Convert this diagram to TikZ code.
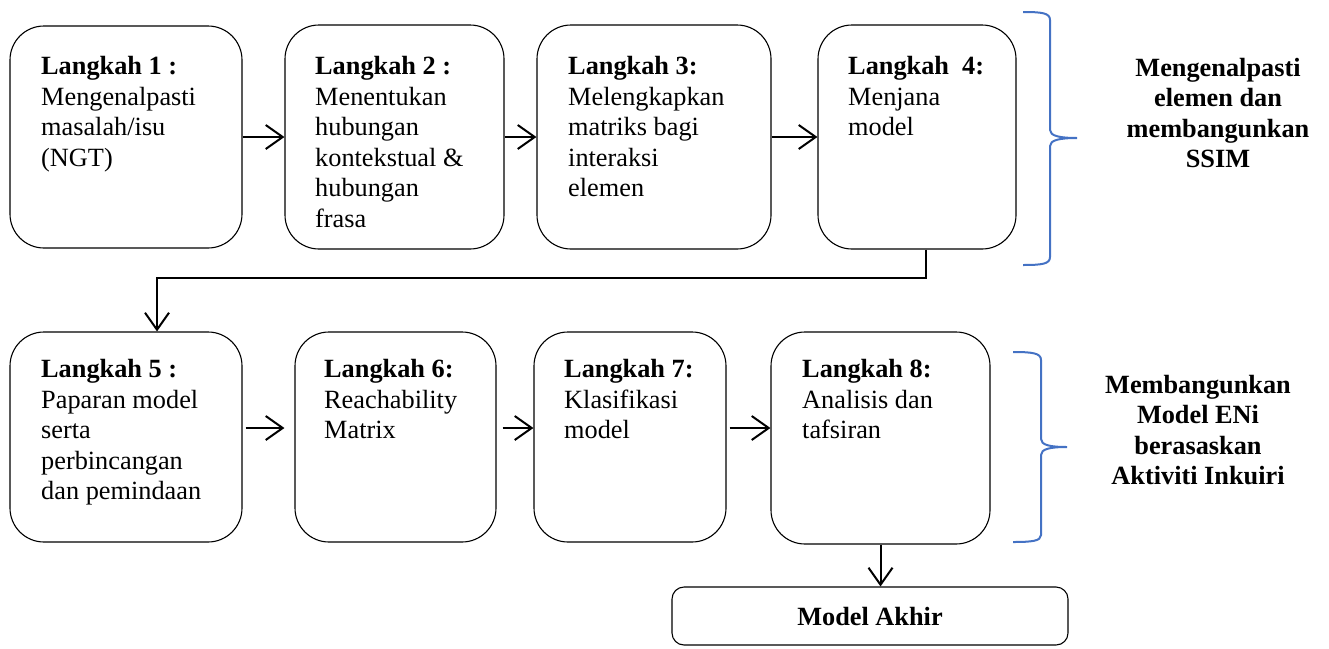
\documentclass[tikz,border=0pt]{standalone}
\usepackage{fontspec}
\setmainfont{Liberation Serif}
\usetikzlibrary{arrows.meta}
\definecolor{braceblue}{RGB}{68,114,196}
\begin{document}
\begin{tikzpicture}[x=1pt,y=-1pt,
    stepbox/.style={draw,line width=1.1pt,rounded corners=34pt,inner sep=0pt},
    endbox/.style={draw,line width=1.1pt,rounded corners=12pt,inner sep=0pt,font=\bfseries},
    steptext/.style={anchor=north west,align=left,inner sep=0pt},
    sidetext/.style={align=center,inner sep=0pt,font=\bfseries},
    flow/.style={line width=2pt,-{Straight Barb[length=17pt,width=24pt,line width=2pt]}},
    bracket/.style={draw=braceblue,line width=2pt}]
\useasboundingbox (0,0) rectangle (1329,648);
\fontsize{26.3}{30.6}\selectfont

% Boxes of the first row
\node [stepbox,minimum width=232pt,minimum height=222pt] (box1) at (126,137) {};
\node [stepbox,minimum width=219pt,minimum height=224pt] (box2) at (394.5,137) {};
\node [stepbox,minimum width=234pt,minimum height=224pt] (box3) at (654,137) {};
\node [stepbox,minimum width=198pt,minimum height=224pt] (box4) at (917,137) {};

% Texts of the first row
\node [steptext] (txt1) at (41,56) {\textbf{Langkah 1 :}\\Mengenalpasti\\masalah/isu\\(NGT)};
\node [steptext] (txt2) at (315,56) {\textbf{Langkah 2 :}\\Menentukan\\hubungan\\kontekstual \&\\hubungan\\frasa};
\node [steptext] (txt3) at (568,56) {\textbf{Langkah 3:}\\Melengkapkan\\matriks bagi\\interaksi\\elemen};
\node [steptext] (txt4) at (848,56) {\textbf{Langkah\ \ 4:}\\Menjana\\model};

% Boxes of the second row
\node [stepbox,minimum width=232pt,minimum height=210pt] (box5) at (126,437) {};
\node [stepbox,minimum width=201pt,minimum height=210pt] (box6) at (395.5,437) {};
\node [stepbox,minimum width=192pt,minimum height=210pt] (box7) at (630,437) {};
\node [stepbox,minimum width=219pt,minimum height=212pt] (box8) at (880.5,438) {};

% Texts of the second row
\node [steptext] (txt5) at (41,359) {\textbf{Langkah 5 :}\\Paparan model\\serta\\perbincangan\\dan pemindaan};
\node [steptext] (txt6) at (324,359) {\textbf{Langkah 6:}\\Reachability\\Matrix};
\node [steptext] (txt7) at (564,359) {\textbf{Langkah 7:}\\Klasifikasi\\model};
\node [steptext] (txt8) at (802,359) {\textbf{Langkah 8:}\\Analisis dan\\tafsiran};

% Final box
\node [endbox,minimum width=396pt,minimum height=58pt] (akhir) at (870,616) {Model Akhir};

% Arrows of the first row
\draw [flow] (box1.east) -- (box2.west);
\draw [flow] (box2.east) -- (box3.west);
\draw [flow] (box3.east) -- (box4.west);

% Link from step 4 down to step 5
\coordinate (bendR) at (926,278);
\coordinate (bendL) at (157,278);
\draw [flow] (box4.south -| bendR) -- (bendR) -- (bendL) -- (bendL |- box5.north);

% Arrows of the second row
\coordinate (midrow) at (0,428);
\draw [flow,shorten <=3pt,shorten >=10pt] (box5.east |- midrow) -- (box6.west |- midrow);
\draw [flow,shorten <=6pt] (box6.east |- midrow) -- (box7.west |- midrow);
\draw [flow,shorten <=3pt] (box7.east |- midrow) -- (box8.west |- midrow);

% Arrow to the final box
\draw [flow] (box8.south) -- (box8.south |- akhir.north);

% Brace of the first row
\draw [bracket] (1023,12) .. controls (1042,12) and (1050,13) .. (1050,20) -- (1050,130)
    .. controls (1050,136) and (1060,138) .. (1077,138)
    .. controls (1060,138) and (1050,140) .. (1050,146) -- (1050,257)
    .. controls (1050,264) and (1042,265) .. (1023,265);
\node [sidetext] (label1) at (1218,113) {Mengenalpasti\\elemen dan\\membangunkan\\SSIM};

% Brace of the second row
\draw [bracket] (1013,352) .. controls (1032,352) and (1041,353) .. (1041,360) -- (1041,439)
    .. controls (1041,445) and (1050,447) .. (1067,447)
    .. controls (1050,447) and (1041,449) .. (1041,455) -- (1041,535)
    .. controls (1041,541) and (1032,542) .. (1013,542);
\node [sidetext] (label2) at (1198,430) {Membangunkan\\Model ENi\\berasaskan\\Aktiviti Inkuiri};
\end{tikzpicture}
\end{document}
